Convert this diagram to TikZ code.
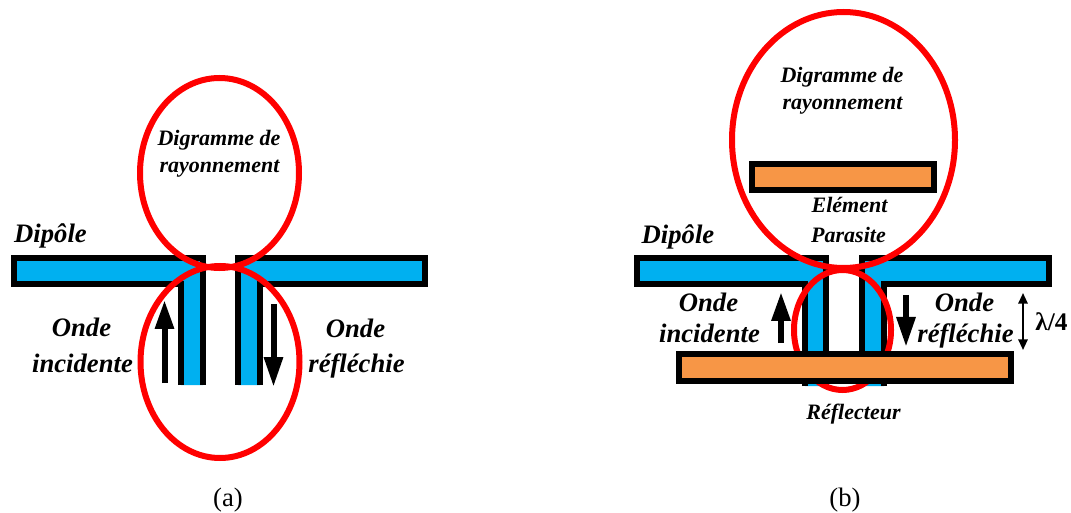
\documentclass[tikz,border=0pt]{standalone}
\usepackage{fontspec}
\setmainfont{Liberation Serif}
\usetikzlibrary{arrows.meta}
\definecolor{dipblue}{RGB}{0,176,240}
\definecolor{parorange}{RGB}{247,150,70}
\definecolor{lobered}{RGB}{255,0,0}
\tikzset{
  armfill/.style={fill=dipblue,draw=none},
  armline/.style={draw=black,line width=6*0.75pt,line join=miter,line cap=butt},
  plate/.style={draw=black,fill=parorange,line width=6*0.75pt},
  lobe/.style={draw=lobered,line width=6*0.75pt},
  wave/.style={draw=black,line width=6*0.75pt},
  waveup/.style={wave,-{Triangle[length=29*0.75pt,width=18*0.75pt]}},
  wavedown/.style={wave,-{Triangle[length=30*0.75pt,width=18*0.75pt]}},
  label/.style={font=\fontsize{20}{20}\selectfont\bfseries\itshape,inner sep=0pt,anchor=base},
  small/.style={font=\fontsize{16.5}{16.5}\selectfont\bfseries\itshape,inner sep=0pt,anchor=base},
  caption/.style={font=\fontsize{20}{20}\selectfont,inner sep=0pt,anchor=base}
}
\begin{document}
\begin{tikzpicture}[x=0.75pt,y=-0.75pt]
\useasboundingbox (0,0) rectangle (1071,513);
% ---- panel (a)
\fill[armfill] (14,258) -- (203,258) -- (203,385) -- (181,385) -- (181,284) -- (14,284) -- cycle;
\draw[armline] (180.5,385) -- (180.5,284) -- (13.5,284) -- (13.5,258) -- (203,258) -- (203,385);
\fill[armfill] (425,258) -- (238,258) -- (238,385) -- (260,385) -- (260,284) -- (425,284) -- cycle;
\draw[armline] (260,385) -- (260,284) -- (425,284) -- (425,258) -- (238,258) -- (238,385);
\draw[lobe] (219.5,173) ellipse [x radius=79.5,y radius=95];
\draw[lobe] (220,362) ellipse [x radius=79.5,y radius=96];
\coordinate (upAfoot) at (164.5,383); \coordinate (upAtip) at (164.5,300);
\coordinate (dnAfoot) at (273.5,304); \coordinate (dnAtip) at (273.5,387);
\draw[waveup] (upAfoot) -- (upAtip);
\draw[wavedown] (dnAfoot) -- (dnAtip);
\node[label] (dipA) at (50.5,243) {Dipôle};
\node[label] (ondeAi) at (81.5,337) {Onde};
\node[label] (incA) at (82.5,373) {incidente};
\node[label] (ondeAr) at (355.5,338) {Onde};
\node[label] (refA) at (356.5,373) {réfléchie};
\node[small] (digA) at (219,146) {Digramme de};
\node[small] (rayA) at (219.5,173) {rayonnement};
\node[caption] (capA) at (228,506) {(a)};
% ---- panel (b)
\fill[armfill] (637,258) -- (826,258) -- (826,386) -- (805,386) -- (805,284) -- (637,284) -- cycle;
\draw[armline] (805,386) -- (805,284) -- (637,284) -- (637,258) -- (826,258) -- (826,386);
\fill[armfill] (1049,258) -- (862,258) -- (862,386) -- (884,386) -- (884,284) -- (1049,284) -- cycle;
\draw[armline] (884,386) -- (884,284) -- (1049,284) -- (1049,258) -- (862,258) -- (862,386);
\draw[lobe] (842.5,330) ellipse [x radius=48.5,y radius=60];
\draw[plate] (679,354) rectangle (1011,381);
\draw[plate] (752,164) rectangle (934,190);
\draw[lobe] (843.5,140) ellipse [x radius=111.5,y radius=128];
\coordinate (upBfoot) at (781,343); \coordinate (upBtip) at (781,292);
\coordinate (dnBfoot) at (906,295); \coordinate (dnBtip) at (906,347);
\draw[waveup] (upBfoot) -- (upBtip);
\draw[wavedown] (dnBfoot) -- (dnBtip);
\coordinate (lamTop) at (1023,293); \coordinate (lamBot) at (1023,350);
\draw[line width=1.5pt,{Triangle[length=8pt,width=7pt]}-{Triangle[length=8pt,width=7pt]}] (lamTop) -- (lamBot);
\node[label] (dipB) at (678,244) {Dipôle};
\node[label] (ondeBi) at (708.5,311) {Onde};
\node[label] (incB) at (709.5,343) {incidente};
\node[label] (ondeBr) at (964.5,311) {Onde};
\node[label] (refB) at (965.5,343) {réfléchie};
\node[small] (digB) at (842,83) {Digramme de};
\node[small] (rayB) at (842.5,110) {rayonnement};
\node[small] (elem) at (849.5,213) {Elément};
\node[small] (para) at (848.5,243) {Parasite};
\node[small] (refl) at (853.5,419) {Réflecteur};
\node[font=\fontsize{19}{19}\selectfont\bfseries,inner sep=0pt,anchor=base] (lam) at (1051.5,330) {λ/4};
\node[caption] (capB) at (845,506) {(b)};
\end{tikzpicture}
\end{document}
